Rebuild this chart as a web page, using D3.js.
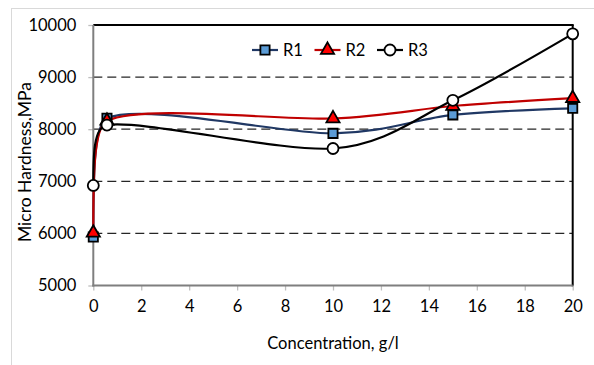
<!DOCTYPE html>
<html>
<head>
<meta charset="utf-8">
<script src="https://cdn.jsdelivr.net/npm/d3@7"></script>
<style>
body { margin: 0; background: #fff; }
svg text { font-family: Lato, "Open Sans", sans-serif; fill: #000; }
</style>
</head>
<body>
<svg id="chart" width="594" height="365"></svg>
<script>
var conc = [0, 0.57, 10, 15, 20];
var r1 = [5930, 8210, 7920, 8275, 8400];
var r2 = [6010, 8160, 8205, 8445, 8595];
var r3 = [6920, 8080, 7630, 8555, 9830];
var seriesNames = ["R1", "R2", "R3"];
var xTicks = [0, 2, 4, 6, 8, 10, 12, 14, 16, 18, 20];
var yTicks = [5000, 6000, 7000, 8000, 9000, 10000];
var gridValues = [6000, 7000, 8000, 9000];

var svg = d3.select("#chart");
var plotL = 93.3, plotR = 572.7, plotT = 25, plotB = 285.5;

var x = d3.scaleLinear().domain([0, 20]).range([plotL, plotR]);
var y = d3.scaleLinear().domain([5000, 10000]).range([plotB, plotT]);

// outer chart frame
svg.append("rect")
    .attr("x", 11.5).attr("y", 8.5)
    .attr("width", 700).attr("height", 500)
    .attr("fill", "none")
    .attr("stroke", "#d9d9d9");

// grid
svg.append("g").selectAll("line")
    .data(gridValues)
    .enter()
    .append("line")
    .attr("x1", plotL).attr("x2", plotR)
    .attr("y1", function(d){ return y(d); })
    .attr("y2", function(d){ return y(d); })
    .attr("stroke", "#262626")
    .attr("stroke-width", 1.3)
    .attr("stroke-dasharray", "9,5");

// top and right black border
svg.append("line")
    .attr("x1", plotL).attr("x2", plotR + 1)
    .attr("y1", plotT).attr("y2", plotT)
    .attr("stroke", "#000").attr("stroke-width", 2);
svg.append("line")
    .attr("x1", plotR).attr("x2", plotR)
    .attr("y1", plotT).attr("y2", plotB + 1)
    .attr("stroke", "#000").attr("stroke-width", 2);

// axes
var xAxis = d3.axisBottom(x).tickValues(xTicks).tickSize(5).tickPadding(10).tickFormat(d3.format("d"));
var yAxis = d3.axisLeft(y).tickValues(yTicks).tickSize(5).tickPadding(12).tickFormat(d3.format("d"));

var gx = svg.append("g")
    .attr("transform", "translate(0," + plotB + ")")
    .call(xAxis);
var gy = svg.append("g")
    .attr("transform", "translate(" + plotL + ",0)")
    .call(yAxis);

gx.select(".domain").remove();
gy.select(".domain").remove();
gx.selectAll(".tick line").attr("stroke", "#bfbfbf").attr("stroke-width", 1.3);
gy.selectAll(".tick line").attr("stroke", "#bfbfbf").attr("stroke-width", 1.3);
gx.selectAll("text").style("font-size", "16.5px").attr("fill", "#000");
gy.selectAll("text").style("font-size", "16.5px").attr("fill", "#000");

svg.append("line")
    .attr("x1", plotL - 1).attr("x2", plotR)
    .attr("y1", plotB).attr("y2", plotB)
    .attr("stroke", "#7f7f7f").attr("stroke-width", 2);

svg.append("line")
    .attr("x1", plotL).attr("x2", plotL)
    .attr("y1", plotT).attr("y2", plotB + 1)
    .attr("stroke", "#7f7f7f").attr("stroke-width", 2);

// axis titles
svg.append("text")
    .attr("x", (plotL + plotR) / 2)
    .attr("y", 349)
    .attr("text-anchor", "middle")
    .style("font-size", "16.5px")
    .text("Concentration, g/l");

svg.append("text")
    .attr("transform", "translate(31,162) rotate(-90)")
    .attr("text-anchor", "middle")
    .style("font-size", "17.5px")
    .text("Micro Hardness,MPa");

// series
var series = [
    {name: seriesNames[0], values: r1, line: "#203864", fill: "#5b9bd5", shape: d3.symbolSquare, size: 85},
    {name: seriesNames[1], values: r2, line: "#c00000", fill: "#ff0000", shape: d3.symbolTriangle, size: 75},
    {name: seriesNames[2], values: r3, line: "#000000", fill: "#ffffff", shape: d3.symbolCircle, size: 95}
];

// excel-like smoothing: cardinal tangents, control points kept inside each segment's x range
function smoothPath(pts, tension) {
    var n = pts.length, k = (1 - tension) / 2;
    var m = pts.map(function(p, i){
        var a = pts[Math.max(0, i - 1)], b = pts[Math.min(n - 1, i + 1)];
        return [(b[0] - a[0]) * k, (b[1] - a[1]) * k];
    });
    var segs = [];
    for (var i = 0; i < n - 1; i++) {
        var dx = pts[i + 1][0] - pts[i][0];
        var s1 = Math.min(1, dx / Math.max(1e-6, Math.abs(m[i][0] / 3)));
        var s2 = Math.min(1, dx / Math.max(1e-6, Math.abs(m[i + 1][0] / 3)));
        segs.push([
            [pts[i][0] + s1 * m[i][0] / 3, pts[i][1] + s1 * m[i][1] / 3],
            [pts[i + 1][0] - s2 * m[i + 1][0] / 3, pts[i + 1][1] - s2 * m[i + 1][1] / 3]
        ]);
    }
    // free ends: aim the end control halfway to the inner one
    segs[0][0] = [(pts[0][0] + segs[0][1][0]) / 2, (pts[0][1] + segs[0][1][1]) / 2];
    var last = segs[n - 2];
    last[1] = [(pts[n - 1][0] + last[0][0]) / 2, (pts[n - 1][1] + last[0][1]) / 2];

    var p = d3.path();
    p.moveTo(pts[0][0], pts[0][1]);
    segs.forEach(function(c, i){
        p.bezierCurveTo(c[0][0], c[0][1], c[1][0], c[1][1], pts[i + 1][0], pts[i + 1][1]);
    });
    return p.toString();
}

var lines = svg.append("g");
series.forEach(function(s){
    var pts = conc.map(function(c, i){ return [x(c), y(s.values[i])]; });
    lines.append("path")
        .attr("d", smoothPath(pts, 0.1))
        .attr("fill", "none")
        .attr("stroke", s.line)
        .attr("stroke-width", 2.2);
});

series.forEach(function(s){
    svg.append("g").selectAll("path")
        .data(conc.map(function(c, i){ return [c, s.values[i]]; }))
        .enter()
        .append("path")
        .attr("transform", function(d){ return "translate(" + x(d[0]) + "," + y(d[1]) + ")"; })
        .attr("d", d3.symbol().type(s.shape).size(s.size))
        .attr("fill", s.fill)
        .attr("stroke", "#000")
        .attr("stroke-width", 1.8);
});

// legend
var legend = svg.selectAll(".legend")
    .data(series)
    .enter()
    .append("g")
    .attr("class", "legend")
    .attr("transform", function(d, i){ return "translate(" + (252 + i * 62.5) + ",50)"; });

legend.append("line")
    .attr("x1", 0).attr("x2", 26)
    .attr("stroke", function(d){ return d.line; })
    .attr("stroke-width", 2.2);
legend.append("path")
    .attr("transform", "translate(13,0)")
    .attr("d", function(d){ return d3.symbol().type(d.shape).size(d.size)(); })
    .attr("fill", function(d){ return d.fill; })
    .attr("stroke", "#000")
    .attr("stroke-width", 1.8);
legend.append("text")
    .attr("x", 31)
    .attr("y", 0)
    .attr("dy", "0.36em")
    .style("font-size", "16.5px")
    .text(function(d){ return d.name; });
</script>
</body>
</html>
